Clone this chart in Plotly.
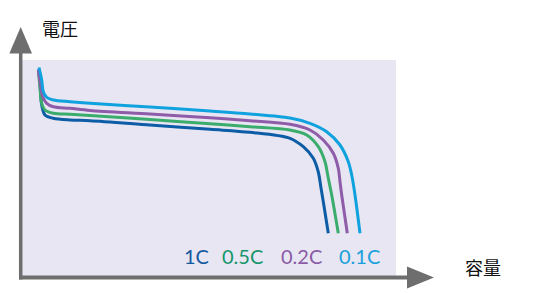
import plotly.graph_objects as go

# Discharge curves (capacity vs voltage, relative units)
cap_01C = [19, 21.7, 23.3, 26.7, 33.3, 50, 70, 130, 190, 230, 270, 290, 306.7, 320, 328.3, 331.7, 335, 340]
volt_01C = [209.5, 197, 185.3, 179.7, 177, 175.3, 173.7, 170, 166, 163, 159, 153.7, 145.3, 132, 115.3, 102, 82, 43.7]

cap_02C = [18.3, 20.5, 22.7, 26.7, 33.3, 50, 70, 130, 190, 230, 270, 290, 303.3, 313.3, 318.3, 320, 321.7, 327.3]
volt_02C = [207, 192, 180.3, 173.7, 170.3, 168.7, 166.5, 163, 159.3, 156.3, 152.7, 147, 137, 123.7, 108.7, 95.3, 82, 43.7]

cap_05C = [18.5, 20, 21.7, 25, 33.3, 50, 70, 130, 190, 230, 270, 286.7, 298.3, 305, 308.3, 311.7, 318.3]
volt_05C = [206, 189, 173.7, 167, 163.7, 162.7, 161.5, 157.5, 153.3, 150.3, 147, 142, 130.3, 115.3, 98.7, 82, 43.7]

cap_1C = [19, 20.3, 21.7, 25, 33.3, 50, 70, 130, 190, 230, 270, 283.3, 293.3, 298.3, 301, 303.5, 308.3]
volt_1C = [208, 189, 172, 162, 158.7, 157, 156.3, 152, 147.7, 144.7, 138.7, 130.3, 118.7, 105, 89, 74, 43.7]

series_names = ["1C", "0.5C", "0.2C", "0.1C"]
line_colors = ["#0d5ca6", "#3aac6c", "#8e5ca8", "#10a2de"]
text_colors = ["#14589e", "#16956a", "#8a5aa6", "#18a0dc"]
label_x = [176, 222, 281, 339.5]
label_y = [21, 21, 21, 21]

fig = go.Figure()
for name, xs, ys, c in zip(series_names,
                           [cap_1C, cap_05C, cap_02C, cap_01C],
                           [volt_1C, volt_05C, volt_02C, volt_01C],
                           line_colors):
    fig.add_trace(go.Scatter(x=xs, y=ys, mode="lines", name=name,
                             line=dict(color=c, width=3, shape="spline", smoothing=0.9),
                             hoverinfo="skip"))

for name, x, y, c in zip(series_names, label_x, label_y, text_colors):
    fig.add_annotation(x=x, y=y, xref="x", yref="y", text=name, showarrow=False,
                       font=dict(family="Lato, Noto Sans, sans-serif", size=20, color=c),
                       xanchor="center", yanchor="middle")

W, H = 554, 293
L, R, T, B = 20, 158, 60, 16
pw, ph = W - L - R, H - T - B


def px(x):
    return (x - L) / pw


def py(y):
    return (H - B - y) / ph


axis_gray = "#6e6e6e"
# axis shafts
fig.add_shape(type="line", xref="paper", yref="paper",
              x0=px(20.7), y0=py(279.5), x1=px(20.7), y1=py(50),
              line=dict(color=axis_gray, width=3.5))
fig.add_shape(type="line", xref="paper", yref="paper",
              x0=px(19), y0=py(277.5), x1=px(412), y1=py(277.5),
              line=dict(color=axis_gray, width=4))
# arrow heads
fig.add_shape(type="path", xref="paper", yref="paper",
              path=f"M {px(9.3)},{py(53.5)} L {px(32)},{py(53.5)} L {px(20.7)},{py(27)} Z",
              fillcolor=axis_gray, line=dict(width=0))
fig.add_shape(type="path", xref="paper", yref="paper",
              path=f"M {px(407)},{py(266.5)} L {px(407)},{py(288.5)} L {px(434)},{py(277.5)} Z",
              fillcolor=axis_gray, line=dict(width=0))

cjk = "Noto Sans CJK JP, sans-serif"
fig.add_annotation(x=px(60), y=py(28), xref="paper", yref="paper", text="電圧",
                   showarrow=False, font=dict(family=cjk, size=18, color="#111111"),
                   xanchor="center", yanchor="middle")
fig.add_annotation(x=px(483), y=py(267), xref="paper", yref="paper", text="容量",
                   showarrow=False, font=dict(family=cjk, size=18, color="#111111"),
                   xanchor="center", yanchor="middle")

fig.update_layout(
    width=W, height=H,
    margin=dict(l=L, r=R, t=T, b=B, pad=0),
    paper_bgcolor="white",
    plot_bgcolor="#e7e6f2",
    showlegend=False,
    xaxis=dict(range=[0, pw], visible=False, fixedrange=True),
    yaxis=dict(range=[0, ph], visible=False, fixedrange=True),
)

fig.write_html("out.html")
